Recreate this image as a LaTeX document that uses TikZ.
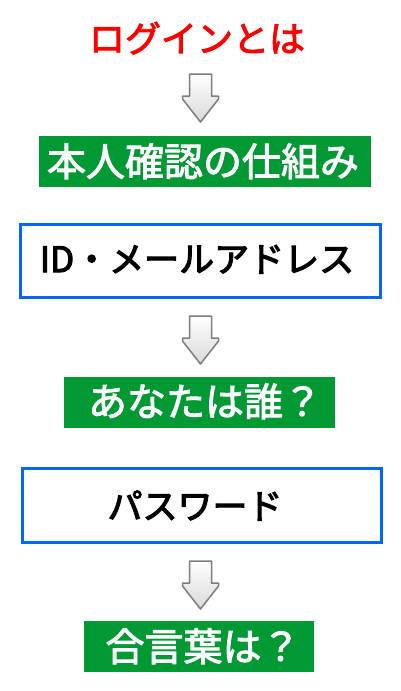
\documentclass[tikz,border=0pt]{standalone}
\usepackage{fontspec}
\newfontfamily\jptitle[FakeBold=2.6]{Noto Sans CJK JP}
\newfontfamily\jpgreen[FakeBold=2.4]{Noto Sans CJK JP}
\newfontfamily\jpblack[FakeBold=3.2]{Noto Sans CJK JP}
\definecolor{boxgreen}{RGB}{0,153,51}
\definecolor{boxblue}{RGB}{0,102,255}
\definecolor{titlered}{RGB}{255,0,0}
\definecolor{arrowline}{RGB}{125,125,125}
\newcommand{\blockdownarrow}[1]{%
  \begin{scope}[shift={(#1)}]
  \path[blockarrow] (-11,0) -- (11,0) -- (11,22) -- (18,22) -- (18,25) -- (0,48) -- (-18,25) -- (-18,22) -- (-11,22) -- cycle;
  \end{scope}}
\begin{document}
\begin{tikzpicture}[x=1pt,y=-1pt,
  greenbox/.style={fill=boxgreen,draw=none},
  bluebox/.style={draw=boxblue,line width=3.5pt,fill=white},
  greentext/.style={anchor=base,inner sep=0pt,text=white,font=\jpgreen\fontsize{39}{39}\selectfont},
  blacktext/.style={anchor=base,inner sep=0pt,text=black,font=\jpblack\fontsize{35}{35}\selectfont},
  blockarrow/.style={draw=arrowline,line width=1.5pt,line join=round,top color=white,bottom color=black!15}
]
\useasboundingbox (0,0) rectangle (400,691);
\fill[white] (0,0) rectangle (400,691);
% title
\node[anchor=base,inner sep=0pt,text=titlered,font=\jptitle\fontsize{36}{36}\selectfont] (title) at (197,52) {ログインとは};
% arrow 1
\coordinate (a1) at (200.5,74);
\blockdownarrow{a1}
% green box 1
\fill[greenbox] (39,136) rectangle (371,187);
\node[greentext] (g1) at (203,176) {本人確認の仕組み};
% blue box 1
\draw[bluebox] (20.5,224.5) rectangle (380.5,297.5);
\node[blacktext] (b1) at (197,272) {ID・メールアドレス};
% arrow 2
\coordinate (a2) at (200.5,316);
\blockdownarrow{a2}
% green box 2
\fill[greenbox] (64,377) rectangle (335,428);
\node[greentext] (g2) at (205,416) {あなたは誰？};
% blue box 2
\draw[bluebox] (22.5,468.5) rectangle (381.5,542.5);
\node[blacktext] (b2) at (195,519) {パスワード};
% arrow 3
\coordinate (a3) at (200.5,561);
\blockdownarrow{a3}
% green box 3
\fill[greenbox] (84,621) rectangle (314,672);
\node[greentext] (g3) at (203,661) {合言葉は？};
\end{tikzpicture}
\end{document}
